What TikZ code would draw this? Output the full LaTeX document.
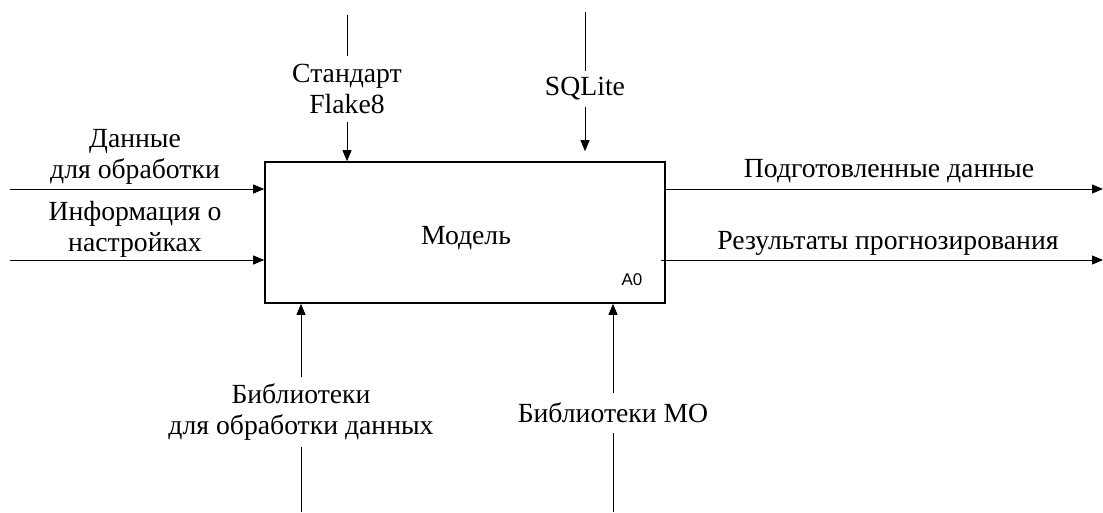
\documentclass[tikz,border=0pt]{standalone}
\usepackage{fontspec}
\setmainfont{Liberation Serif}
\newfontfamily\numfont{Liberation Sans}
\usetikzlibrary{arrows.meta}

\begin{document}
\begin{tikzpicture}[x=1pt,y=-1pt,
    arr/.style={line width=0.8pt, -{Triangle[length=11pt,width=9pt]}},
    plain/.style={line width=0.8pt},
    lbl/.style={font=\rmfamily\fontsize{27.7}{31}\selectfont, align=center, inner sep=0pt},
    cut/.style={lbl, inner ysep=8pt}]
  \useasboundingbox (0,0) rectangle (1103,512);
  % function box
  \node[draw, line width=1.6pt, minimum width=400pt, minimum height=141pt, inner sep=0pt] (model) at (465,232.5) {};
  \node[lbl] (name) at (466,238) {Модель};
  \node[font=\numfont\fontsize{17}{19}\selectfont, inner sep=0pt] (num) at (632,280) {A0};
  % inputs
  \coordinate (in1) at (10,189);
  \coordinate (in2) at (10,260);
  \node[lbl] (inlbl1) at (135,157) {Данные\\для обработки};
  \node[lbl] (inlbl2) at (135,229) {Информация о\\настройках};
  \draw[arr] (in1) -- (in1 -| model.west);
  \draw[arr] (in2) -- (in2 -| model.west);
  % outputs
  \coordinate (out1) at (1103,189);
  \coordinate (out2) at (1103,260);
  \node[lbl] (outlbl1) at (889,171) {Подготовленные данные};
  \node[lbl] (outlbl2) at (888,243) {Результаты прогнозирования};
  \draw[arr] (out1 -| model.east) -- (out1);
  \draw[arr] ([xshift=-5pt]out2 -| model.east) -- (out2);
  % controls
  \coordinate (ctl1) at (347,15);
  \coordinate (ctl2) at (585,12);
  \node[cut] (flake) at (347,89) {Стандарт\\Flake8};
  \node[cut, inner ysep=6pt] (sqlite) at (585,89) {SQLite};
  \draw[plain] (ctl1) -- (flake);
  \draw[arr] (flake) -- (flake |- model.north);
  \draw[plain] (ctl2) -- (sqlite);
  \draw[arr] (sqlite) -- ([yshift=10pt]sqlite |- model.north);
  % mechanisms
  \coordinate (mech1) at (301,512);
  \coordinate (mech2) at (613,512);
  \node[cut, inner ysep=6pt] (libdata) at (301,412) {Библиотеки\\для обработки данных};
  \node[cut, inner ysep=10pt] (libml) at (613,413) {Библиотеки МО};
  \draw[plain] (mech1) -- (libdata);
  \draw[arr] (libdata) -- (libdata |- model.south);
  \draw[plain] (mech2) -- (libml);
  \draw[arr] (libml) -- (libml |- model.south);
\end{tikzpicture}
\end{document}
